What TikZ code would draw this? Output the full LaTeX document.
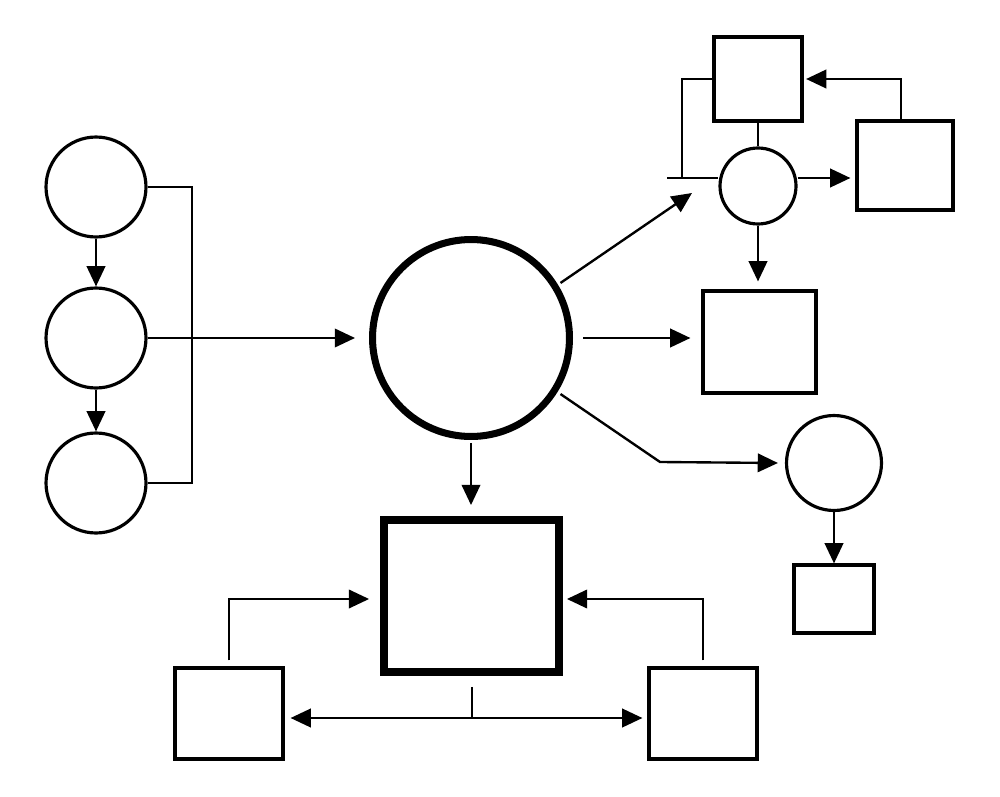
\documentclass[tikz,border=0pt]{standalone}
\usetikzlibrary{arrows.meta}
\begin{document}
\begin{tikzpicture}[x=0.02cm,y=-0.02cm,
  conn/.style={line width=1.35pt,line join=miter},
  arr/.style={conn,-{Triangle[length=11.5pt,width=10.5pt]}},
  arrtwo/.style={conn,{Triangle[length=11.5pt,width=10.5pt]}-{Triangle[length=11.5pt,width=10.5pt]}},
  circ/.style={draw,circle,line width=1.8pt,inner sep=0pt},
  boxn/.style={draw,rectangle,line width=1.8pt,inner sep=0pt}]
\useasboundingbox (0,0) rectangle (1000,797);
% left column
\node[circ,minimum size=2cm] (L1) at (96,187) {};
\node[circ,minimum size=2cm] (L2) at (96,338) {};
\node[circ,minimum size=2cm] (L3) at (96,483) {};
% central
\node[draw,circle,line width=4pt,inner sep=0pt,minimum size=3.94cm] (C) at (471,338) {};
\node[draw,rectangle,line width=4.5pt,inner sep=0pt,minimum width=3.5cm,minimum height=3.04cm] (S) at (471.5,596) {};
\node[boxn,minimum width=2.16cm,minimum height=1.82cm] (LB) at (229,713.5) {};
\node[boxn,minimum width=2.16cm,minimum height=1.82cm] (RB) at (703,713.5) {};
% top right
\node[boxn,minimum width=1.76cm,minimum height=1.68cm] (T) at (758,79) {};
\node[circ,minimum size=1.52cm] (SC) at (758,186) {};
\node[boxn,minimum width=1.92cm,minimum height=1.78cm] (R) at (905,165.5) {};
\node[boxn,minimum width=2.26cm,minimum height=2.04cm] (M) at (759.5,342) {};
\node[circ,minimum size=1.9cm] (D) at (834,463) {};
\node[boxn,minimum width=1.6cm,minimum height=1.36cm] (E) at (834,599) {};
% coordinates
\coordinate (bt) at (192,187);
\coordinate (hl) at (667,178);
\coordinate (hv) at (682,178);
\coordinate (dt) at (692,193);
\coordinate (bend) at (660,462);
\coordinate (J) at (472,718);
\coordinate (Ly) at (229,599);
\coordinate (Ry) at (703,599);
% left column connectors
\draw[arr] (L1.south) -- (L2.north);
\draw[arr] (L2.south) -- (L3.north);
\draw[conn] (L1.east) -- (bt) -- (bt |- L3.east) -- (L3.east);
\draw[arr] (L2.east) -- ([xshift=-0.28cm]C.west);
% central connectors
\draw[arr] ([yshift=-0.06cm]C.south) -- ([yshift=0.22cm]C.south |- S.north);
\draw[arr] ([yshift=0.12cm]LB.north) -- (Ly) -- ([xshift=-0.22cm]S.west |- Ly);
\draw[arr] ([yshift=0.12cm]RB.north) -- (Ry) -- ([xshift=0.08cm]S.east |- Ry);
\draw[conn] ([yshift=-0.22cm]S.south -| J) -- (J);
\draw[arrtwo] ([xshift=0.12cm]LB.east |- J) -- ([xshift=-0.1cm]RB.west |- J);
% right connectors
\draw[arr] ([shift={(0.06cm,0.02cm)}]C.32) -- (dt);
\draw[arr] ([xshift=0.2cm]C.east) -- ([xshift=-0.22cm]M.west |- C.east);
\draw[arr] ([shift={(0.06cm,-0.04cm)}]C.-32) -- (bend) -- ([xshift=-0.14cm]D.west);
\draw[arr] (D.south) -- (E.north);
% top right connectors
\draw[conn] (T.south) -- (SC.north);
\draw[conn] (hl) -- (SC.west |- hl);
\draw[conn] (hv) |- (T.west);
\draw[arr] (SC.east |- hl) -- ([xshift=-0.1cm]R.west |- hl);
\draw[arr] ([xshift=-0.08cm]R.north) |- ([xshift=0.05cm]T.east);
\draw[arr] (SC.south) -- ([yshift=0.16cm]SC.south |- M.north);
\end{tikzpicture}
\end{document}
